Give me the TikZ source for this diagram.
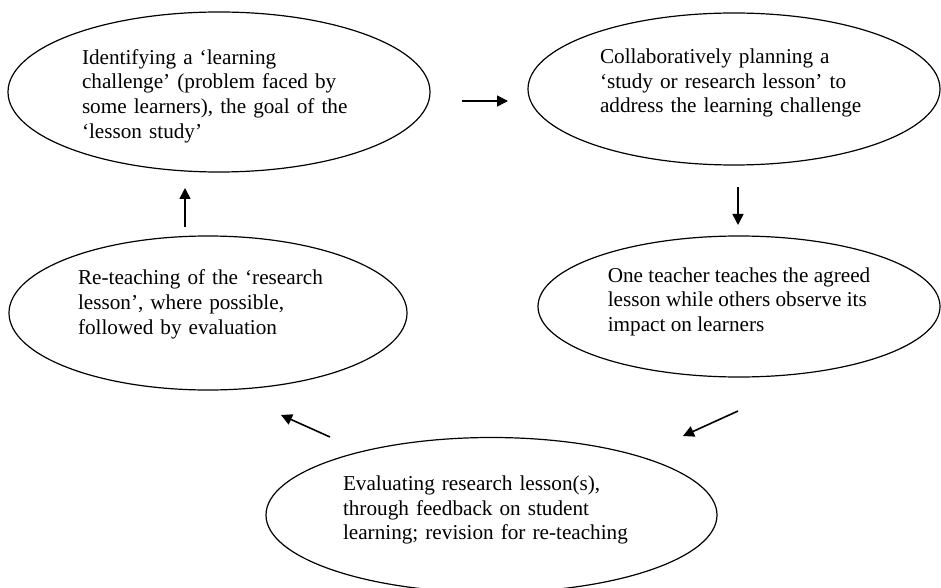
\documentclass[tikz,border=0pt]{standalone}
\usepackage{fontspec}
\setmainfont{Liberation Serif}
\usetikzlibrary{shapes.geometric,arrows.meta,positioning}

\begin{document}
\begin{tikzpicture}[x=0.5pt, y=-0.5pt, >={Triangle[length=5.5pt,width=5.5pt]},
  stage/.style={ellipse, draw, line width=0.6pt, inner sep=0pt, align=left, font=\fontsize{10.6pt}{12.3pt}\selectfont},
  cyclearrow/.style={->, line width=0.8pt}]
\useasboundingbox (0,0) rectangle (941,588);

\node (identify) at (219,92) [stage, minimum width=211pt, minimum height=80pt, text width=137pt, text depth=35.2pt] {Identifying a ‘learning\\ challenge’ (problem faced by\\ some learners), the goal of the\\ ‘lesson study’};
\node (planning) at (734,89) [stage, minimum width=206pt, minimum height=76pt, text width=134pt, text depth=32.6pt] {Collaboratively planning a\\ ‘study or research lesson’ to\\ address the learning challenge};
\node (teaching) at (739,306.5) [stage, minimum width=201pt, minimum height=70.5pt, text depth=7pt] {One teacher teaches the agreed\\ lesson while others observe its\\ impact on learners};
\node (evaluating) at (491.5,515) [stage, minimum width=225.5pt, minimum height=77.5pt, text width=148.5pt, text depth=31.6pt] {Evaluating research lesson(s),\\ through feedback on student\\ learning; revision for re-teaching};
\node (reteaching) at (208,313) [stage, minimum width=199pt, minimum height=77pt, text width=130pt, text depth=35.6pt] {Re-teaching of the ‘research\\ lesson’, where possible,\\ followed by evaluation};

\coordinate (identify_out) at (462,101);
\coordinate (planning_in) at (508,101);
\coordinate (planning_out) at (738,187);
\coordinate (teaching_in) at (738,225);
\coordinate (teaching_out) at (738,411);
\coordinate (evaluating_in) at (683,436);
\coordinate (evaluating_out) at (330,437);
\coordinate (reteaching_in) at (281,415);
\coordinate (reteaching_out) at (185,227);
\coordinate (identify_in) at (185,188);

\draw [cyclearrow] (identify_out) -- (planning_in);
\draw [cyclearrow] (planning_out) -- (teaching_in);
\draw [cyclearrow] (teaching_out) -- (evaluating_in);
\draw [cyclearrow] (evaluating_out) -- (reteaching_in);
\draw [cyclearrow] (reteaching_out) -- (identify_in);
\end{tikzpicture}
\end{document}
